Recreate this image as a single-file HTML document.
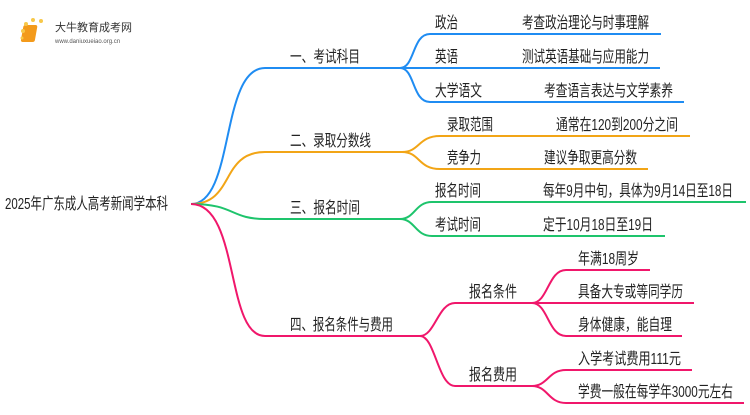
<!DOCTYPE html>
<html><head><meta charset="utf-8"><style>
body{margin:0;background:#fff;width:750px;height:410px;overflow:hidden}
svg text{font-family:"Liberation Sans","Noto Sans CJK SC",sans-serif;font-size:16px;fill:#222}
</style></head><body>
<svg width="750" height="410" viewBox="0 0 750 410" xmlns="http://www.w3.org/2000/svg">
<g fill="none" stroke-width="2">
<g stroke="#1f8cf2">
<path d="M191 204 C235 204,220 68,265 68 H400"/>
<path d="M400 68 C415 68,412 34,430 34 H661"/>
<path d="M400 68 H660"/>
<path d="M400 68 C415 68,412 102,430 102 H684"/>
</g>
<g stroke="#f2a516">
<path d="M191 204 C235 204,220 152,265 152 H402"/>
<path d="M402 152 C420 152,418 136,440 136 H690"/>
<path d="M402 152 C420 152,418 169,440 169 H648"/>
</g>
<g stroke="#1ec46c">
<path d="M191 204 C235 204,230 219,265 219 H400"/>
<path d="M400 219 C415 219,415 202,432 202 H746"/>
<path d="M400 219 C415 219,415 236,432 236 H665"/>
</g>
<g stroke="#f0176b">
<path d="M191 204 C240 204,225 336,265 336 H420"/>
<path d="M420 336 C435 336,438 303,455 303 H532"/>
<path d="M420 336 C435 336,438 386,455 386 H532"/>
<path d="M532 303 C548 303,548 270,566 270 H650"/>
<path d="M532 303 H694"/>
<path d="M532 303 C548 303,548 336,566 336 H682"/>
<path d="M532 386 C548 386,548 370,566 370 H692"/>
<path d="M532 386 C548 386,548 403,566 403 H744"/>
</g>
</g>
<rect x="28" y="25" width="14" height="17" rx="2" fill="#f39a1b" transform="skewX(-10)"/>
<g fill="#f7c84a"><circle cx="23" cy="31" r="2"/><circle cx="26" cy="24" r="2"/><circle cx="33" cy="20" r="2"/><circle cx="41" cy="21" r="2"/><circle cx="22" cy="38" r="1.5"/></g>
<text x="55" y="31" style="font-size:11px;fill:#333">大牛教育成考网</text>
<text x="55" y="43" style="font-size:6px;fill:#555">www.daniuxueiao.org.cn</text>
<g>
<text x="5" y="209" textLength="163" lengthAdjust="spacingAndGlyphs">2025年广东成人高考新闻学本科</text>
<text x="290" y="62" textLength="70" lengthAdjust="spacingAndGlyphs">一、考试科目</text>
<text x="290" y="146" textLength="81" lengthAdjust="spacingAndGlyphs">二、录取分数线</text>
<text x="290" y="213" textLength="70" lengthAdjust="spacingAndGlyphs">三、报名时间</text>
<text x="290" y="330" textLength="103" lengthAdjust="spacingAndGlyphs">四、报名条件与费用</text>
<text x="435" y="28" textLength="23" lengthAdjust="spacingAndGlyphs">政治</text>
<text x="522" y="28" textLength="127" lengthAdjust="spacingAndGlyphs">考查政治理论与时事理解</text>
<text x="435" y="62" textLength="23" lengthAdjust="spacingAndGlyphs">英语</text>
<text x="522" y="62" textLength="127" lengthAdjust="spacingAndGlyphs">测试英语基础与应用能力</text>
<text x="435" y="96" textLength="47" lengthAdjust="spacingAndGlyphs">大学语文</text>
<text x="544" y="96" textLength="129" lengthAdjust="spacingAndGlyphs">考查语言表达与文学素养</text>
<text x="447" y="130" textLength="46" lengthAdjust="spacingAndGlyphs">录取范围</text>
<text x="556" y="130" textLength="122" lengthAdjust="spacingAndGlyphs">通常在120到200分之间</text>
<text x="447" y="163" textLength="34" lengthAdjust="spacingAndGlyphs">竞争力</text>
<text x="544" y="163" textLength="93" lengthAdjust="spacingAndGlyphs">建议争取更高分数</text>
<text x="435" y="196" textLength="46" lengthAdjust="spacingAndGlyphs">报名时间</text>
<text x="543" y="196" textLength="190" lengthAdjust="spacingAndGlyphs">每年9月中旬，具体为9月14日至18日</text>
<text x="435" y="230" textLength="46" lengthAdjust="spacingAndGlyphs">考试时间</text>
<text x="543" y="230" textLength="110" lengthAdjust="spacingAndGlyphs">定于10月18日至19日</text>
<text x="469" y="297" textLength="48" lengthAdjust="spacingAndGlyphs">报名条件</text>
<text x="469" y="380" textLength="48" lengthAdjust="spacingAndGlyphs">报名费用</text>
<text x="578" y="264" textLength="61" lengthAdjust="spacingAndGlyphs">年满18周岁</text>
<text x="578" y="297" textLength="105" lengthAdjust="spacingAndGlyphs">具备大专或等同学历</text>
<text x="578" y="330" textLength="94" lengthAdjust="spacingAndGlyphs">身体健康，能自理</text>
<text x="578" y="364" textLength="103" lengthAdjust="spacingAndGlyphs">入学考试费用111元</text>
<text x="578" y="397" textLength="155" lengthAdjust="spacingAndGlyphs">学费一般在每学年3000元左右</text>
</g>
</svg>
</body></html>
